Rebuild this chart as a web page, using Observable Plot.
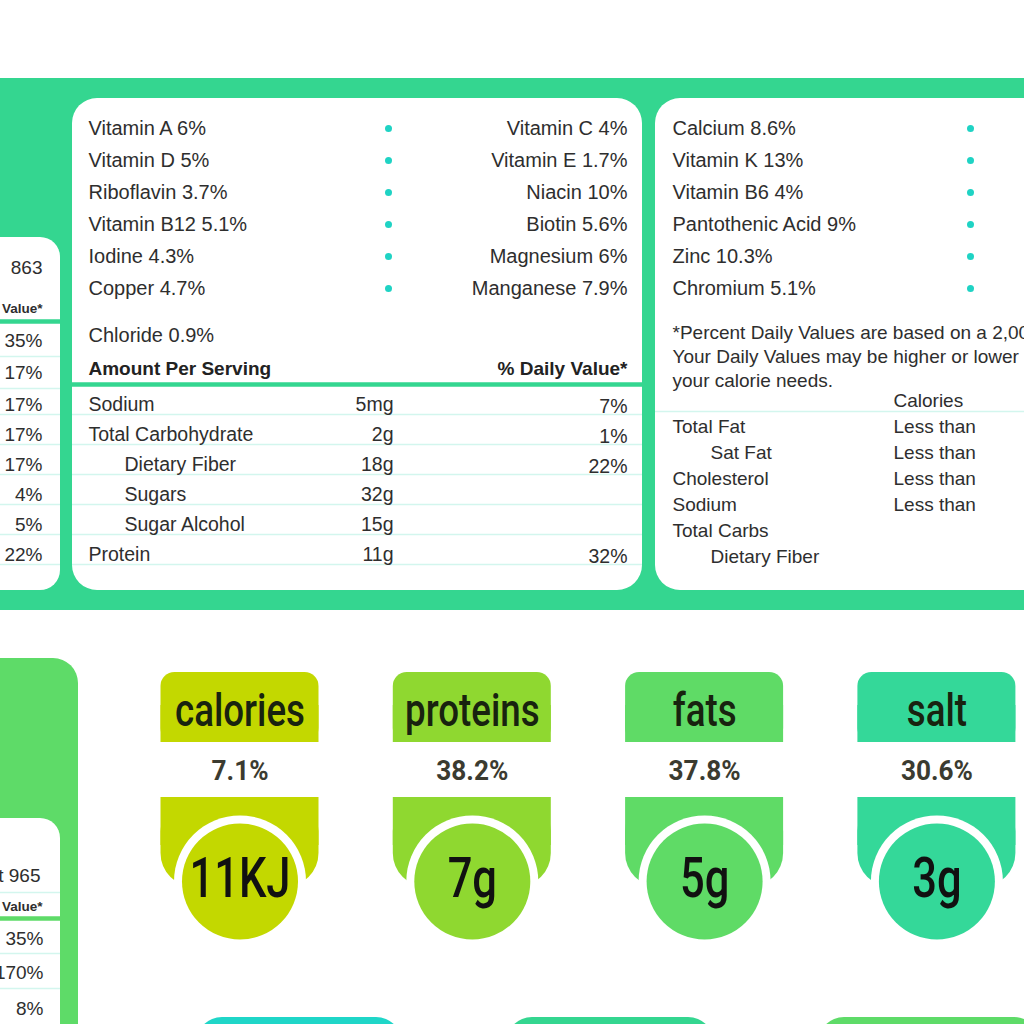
<!DOCTYPE html>
<html><head><meta charset="utf-8">
<script src="https://cdn.jsdelivr.net/npm/d3@7"></script>
<script src="https://cdn.jsdelivr.net/npm/@observablehq/plot@0.6"></script>
<style>html,body{margin:0;padding:0;background:#fff;} #chart svg{overflow:hidden;display:block;}</style>
</head><body><div id="chart"></div><script>
// ---------- data ----------
const vitaminsLeft = ["Vitamin A","Vitamin D","Riboflavin","Vitamin B12","Iodine","Copper"];
const vitaminsLeftPct = ["6%","5%","3.7%","5.1%","4.3%","4.7%"];
const vitaminsMid = ["Vitamin C","Vitamin E","Niacin","Biotin","Magnesium","Manganese"];
const vitaminsMidPct = ["4%","1.7%","10%","5.6%","6%","7.9%"];
const mineralsRight = ["Calcium","Vitamin K","Vitamin B6","Pantothenic Acid","Zinc","Chromium"];
const mineralsRightPct = ["8.6%","13%","4%","9%","10.3%","5.1%"];
const extraMineral = ["Chloride","0.9%"];
const headerLabels = ["Amount Per Serving","% Daily Value*"];
const nutrientNames = ["Sodium","Total Carbohydrate","Dietary Fiber","Sugars","Sugar Alcohol","Protein"];
const nutrientSub = [false,false,true,true,true,false];
const nutrientAmounts = ["5mg","2g","18g","32g","15g","11g"];
const nutrientDV = ["7%","1%","22%","","","32%"];
const sideCaloriesTop = "863";
const sideDVTop = ["35%","17%","17%","17%","17%","4%","5%","22%"];
const sideCaloriesBottom = "Calories from Fat 965";
const sideDVBottom = ["35%","170%","8%"];
const footnote = ["*Percent Daily Values are based on a 2,000 calorie diet.",
                  "Your Daily Values may be higher or lower depending on",
                  "your calorie needs."];
const limitHeader = "Calories";
const limitNames = ["Total Fat","Sat Fat","Cholesterol","Sodium","Total Carbs","Dietary Fiber"];
const limitSub = [false,true,false,false,false,true];
const limitQual = ["Less than","Less than","Less than","Less than","",""];
const badgeLabels = ["calories","proteins","fats","salt"];
const badgePct = ["7.1%","38.2%","37.8%","30.6%"];
const badgeAmount = ["11KJ","7g","5g","3g"];

// ---------- palette ----------
const GREEN = "#34d690", GREEN2 = "#5edb68", TEAL = "#1fd3c4", LIGHT = "#d3f6ee";
const badgeColors = ["#c3d800","#8fd830","#5fdb66","#34d899"];
const bottomColors = ["#1fd6c8","#34d690","#5edb68"];
const INK = "#2e2e2e", DARK = "#18230f";
const SANS = "'Liberation Sans', Arimo, Arial, sans-serif";
const COND = "Roboto, 'Liberation Sans', sans-serif";

// ---------- layout (computed) ----------
const vitY = i => 128 + i * 32;
const rowY = i => 404 + i * 30;
const sideY = i => i < 2 ? 340 + 32 * i : rowY(i - 2);
const limY = i => 426 + i * 26;
const badgeCx = i => 239.5 + 232.3 * i;

const bg = [{x1:-10,x2:1034,y1:78,y2:610,fill:GREEN}];
const panels25 = [
  {x1:72,x2:642,y1:98,y2:590,fill:"#fff"},
  {x1:655,x2:1070,y1:98,y2:590,fill:"#fff"},
  {x1:-40,x2:78,y1:658,y2:1070,fill:GREEN2}
];
const panels20 = [
  {x1:-40,x2:60,y1:237,y2:590,fill:"#fff"},
  {x1:-40,x2:60,y1:818,y2:1070,fill:"#fff"}
];
const bottomShapes = [[196,402],[506,714],[818,1040]].map((d,i)=>({x1:d[0],x2:d[1],y1:1017,y2:1080,fill:bottomColors[i]}));
const badges = badgeLabels.map((l,i)=>({cx:badgeCx(i), label:l, pct:badgePct[i], amt:badgeAmount[i], fill:badgeColors[i]}));
const tabs = badges.map(b=>({x1:b.cx-79,x2:b.cx+79,y1:672,y2:742,fill:b.fill}));
const tabsSq = badges.map(b=>({x1:b.cx-79,x2:b.cx+79,y1:705,y2:742,fill:b.fill}));
const shields = badges.map(b=>({x1:b.cx-79,x2:b.cx+79,y1:797,y2:887,fill:b.fill}));
const shieldsSq = badges.map(b=>({x1:b.cx-79,x2:b.cx+79,y1:797,y2:845,fill:b.fill}));

const lightLines = [
  ...nutrientNames.map((_,i)=>({y:rowY(i)+10,x1:72,x2:642})),
  ...nutrientNames.map((_,i)=>({y:rowY(i)+10,x1:0,x2:60})),
  {y:356,x1:0,x2:60},{y:388,x1:0,x2:60},
  {y:411,x1:655,x2:1024},
  {y:892,x1:0,x2:60},{y:953,x1:0,x2:60},{y:988,x1:0,x2:60}
];
const thickLines = [{y:384,x1:72,x2:642,s:GREEN},{y:321,x1:0,x2:60,s:GREEN},{y:918,x1:0,x2:60,s:GREEN2}];

const dots = [
  ...vitaminsLeft.map((_,i)=>({x:388,y:vitY(i)})),
  ...mineralsRight.map((_,i)=>({x:970,y:vitY(i)}))
];

const textStart = [
  ...vitaminsLeft.map((n,i)=>({x:88,y:vitY(i),t:`${n} ${vitaminsLeftPct[i]}`,s:20})),
  ...mineralsRight.map((n,i)=>({x:672,y:vitY(i),t:`${n} ${mineralsRightPct[i]}`,s:20})),
  {x:88,y:335,t:extraMineral.join(" "),s:20},
  ...nutrientNames.map((n,i)=>({x:nutrientSub[i]?124:88,y:rowY(i),t:n,s:19.5})),
  ...footnote.map((t,i)=>({x:672,y:332+24*i,t,s:19})),
  {x:893,y:400,t:limitHeader,s:19},
  ...limitNames.map((n,i)=>({x:limitSub[i]?710:672,y:limY(i),t:n,s:19})),
  ...limitQual.map((n,i)=>({x:893,y:limY(i),t:n,s:19}))
];
const textEnd = [
  ...vitaminsMid.map((n,i)=>({x:627,y:vitY(i),t:`${n} ${vitaminsMidPct[i]}`,s:20})),
  ...nutrientAmounts.map((t,i)=>({x:393,y:rowY(i),t,s:19.5})),
  ...nutrientDV.map((t,i)=>({x:627,y:rowY(i)+2,t,s:19.5})),
  {x:42,y:267,t:sideCaloriesTop,s:19},
  ...sideDVTop.map((t,i)=>({x:42,y:sideY(i),t,s:19})),
  {x:40,y:875,t:sideCaloriesBottom,s:19},
  ...sideDVBottom.map((t,i)=>({x:43,y:[938,972,1008][i],t,s:19}))
];
const smallBold = [{x:42,y:308,t:headerLabels[1]},{x:42,y:906,t:headerLabels[1]}];
const headerBold = [{x:88,y:368,t:headerLabels[0],a:"start"},{x:627,y:368,t:headerLabels[1],a:"end"}];

const R = (data, rx) => Plot.rect(data, {x1:"x1",x2:"x2",y1:"y1",y2:"y2",fill:"fill",rx});

const chart = Plot.plot({
  width:1024, height:1024, margin:0,
  x:{domain:[0,1024],range:[0,1024],axis:null},
  y:{domain:[0,1024],range:[0,1024],axis:null},
  color:{type:"identity"},
  style:{background:"#fff",overflow:"hidden"},
  marks:[
    R(bg,0),
    R(panels25,25),
    R(panels20,20),
    R(bottomShapes,26),
    Plot.ruleY(lightLines,{y:"y",x1:"x1",x2:"x2",stroke:LIGHT,strokeWidth:1.5}),
    Plot.ruleY(thickLines,{y:"y",x1:"x1",x2:"x2",stroke:"s",strokeWidth:4.5}),
    Plot.dot(dots,{x:"x",y:"y",r:3.5,fill:TEAL}),
    Plot.text(textStart,{x:"x",y:"y",text:"t",fontSize:"s",textAnchor:"start",fill:INK,fontFamily:SANS}),
    Plot.text(textEnd,{x:"x",y:"y",text:"t",fontSize:"s",textAnchor:"end",fill:INK,fontFamily:SANS}),
    Plot.text(smallBold,{x:"x",y:"y",text:"t",fontSize:13.5,textAnchor:"end",fill:INK,fontFamily:SANS,fontWeight:"bold"}),
    Plot.text(headerBold.filter(d=>d.a==="start"),{x:"x",y:"y",text:"t",fontSize:19,textAnchor:"start",fill:"#222",fontFamily:SANS,fontWeight:"bold"}),
    Plot.text(headerBold.filter(d=>d.a==="end"),{x:"x",y:"y",text:"t",fontSize:19,textAnchor:"end",fill:"#222",fontFamily:SANS,fontWeight:"bold"}),
    // badges
    R(tabs,14),
    R(tabsSq,0),
    R(shields,34),
    R(shieldsSq,0),
    Plot.dot(badges,{x:"cx",y:881,r:66,fill:"#fff"}),
    Plot.dot(badges,{x:"cx",y:881,r:58,fill:"fill"}),
    Plot.text(badges,{x:"cx",y:710,text:"label",fontSize:47,fill:DARK,fontFamily:COND,fontWeight:500}),
    Plot.text(badges,{x:"cx",y:771,text:"pct",fontSize:27,fill:"#3b3b30",fontFamily:COND,fontWeight:700}),
    Plot.text(badges,{x:"cx",y:879,text:"amt",fontSize:56,fill:"#111",fontFamily:COND,fontWeight:500})
  ]
});
document.getElementById("chart").append(chart);

// condense the badge lettering horizontally (reference uses a narrow face)
function condense(size, refIndex, refWidth) {
  const g = Array.from(chart.querySelectorAll("g")).find(e => +e.getAttribute("font-size") === size);
  if (!g) return;
  const texts = Array.from(g.querySelectorAll("text"));
  const f = refWidth / texts[refIndex].getComputedTextLength();
  texts.forEach(t => {
    t.setAttribute("textLength", t.getComputedTextLength() * f);
    t.setAttribute("lengthAdjust", "spacingAndGlyphs");
  });
}
condense(47, 0, 130);
condense(27, 1, 72);
condense(56, 0, 101);
</script></body></html>
